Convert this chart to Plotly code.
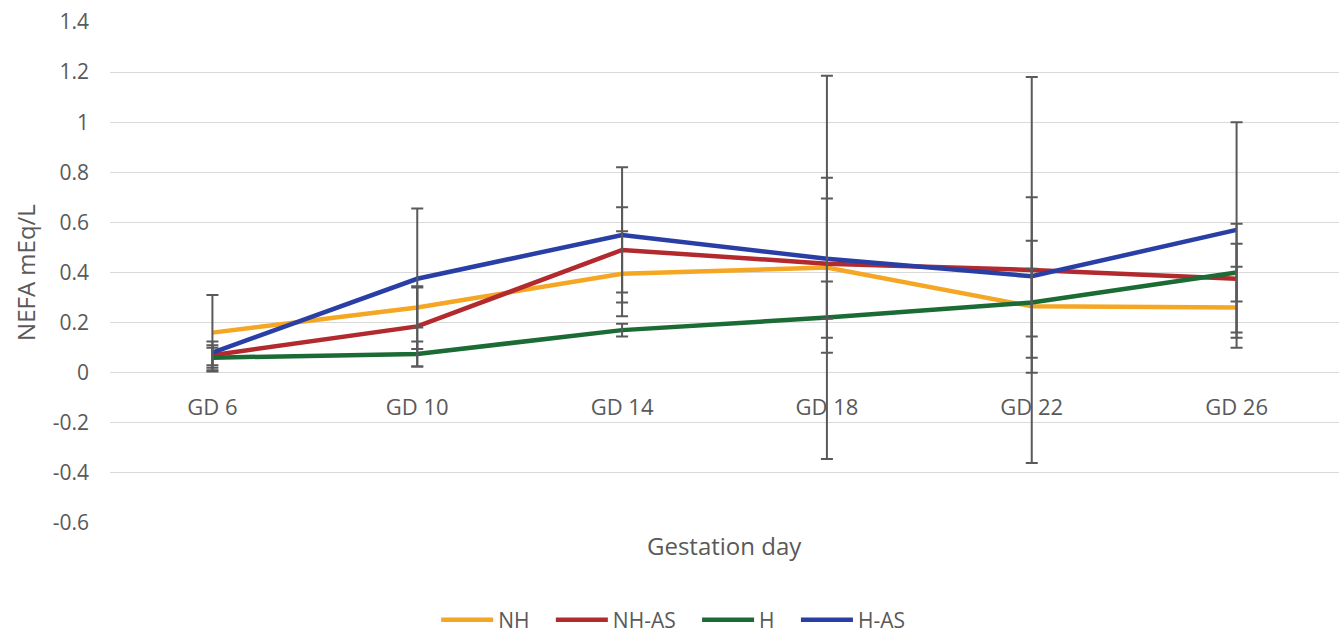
import plotly.graph_objects as go

categories = ["GD 6", "GD 10", "GD 14", "GD 18", "GD 22", "GD 26"]

y_tick_vals = [-0.6, -0.4, -0.2, 0, 0.2, 0.4, 0.6, 0.8, 1, 1.2, 1.4]
y_tick_text = ["-0.6", "-0.4", "-0.2", "0", "0.2", "0.4", "0.6", "0.8", "1", "1.2", "1.4"]

nh = [0.16, 0.26, 0.395, 0.42, 0.265, 0.26]
nh_err_plus = [0.15, 0.08, 0.17, 0.765, 0.262, 0.163]
nh_err_minus = [0.15, 0.08, 0.17, 0.765, 0.265, 0.16]

nh_as = [0.07, 0.185, 0.49, 0.435, 0.41, 0.375]
nh_as_err_plus = [0.04, 0.16, 0.17, 0.343, 0.77, 0.22]
nh_as_err_minus = [0.04, 0.16, 0.17, 0.295, 0.77, 0.215]

h = [0.06, 0.075, 0.17, 0.22, 0.28, 0.40]
h_err_plus = [0.04, 0.05, 0.025, 0.144, 0.135, 0.115]
h_err_minus = [0.04, 0.05, 0.025, 0.14, 0.135, 0.116]

h_as = [0.08, 0.375, 0.55, 0.455, 0.385, 0.57]
h_as_err_plus = [0.045, 0.28, 0.27, 0.24, 0.315, 0.43]
h_as_err_minus = [0.075, 0.28, 0.27, 0.24, 0.325, 0.43]

series = [
    ("NH", nh, nh_err_plus, nh_err_minus, "#F5A623"),
    ("NH-AS", nh_as, nh_as_err_plus, nh_as_err_minus, "#B2292E"),
    ("H", h, h_err_plus, h_err_minus, "#1B6B35"),
    ("H-AS", h_as, h_as_err_plus, h_as_err_minus, "#2A3FA5"),
]

pad = "\u00a0" * 3

fig = go.Figure()
for i, (name, vals, ep, em, col) in enumerate(series):
    label = name + (pad if i < len(series) - 1 else "")
    fig.add_trace(go.Scatter(
        x=categories, y=vals, mode="lines", name=label,
        line=dict(color=col, width=4.5),
        xaxis="x2",
    ))
for name, vals, ep, em, col in series:
    fig.add_trace(go.Scatter(
        x=categories, y=vals, mode="markers", showlegend=False,
        marker=dict(size=1, color="rgba(0,0,0,0)"),
        error_y=dict(type="data", symmetric=False, array=ep, arrayminus=em,
                     color="#5a5a5a", thickness=2, width=6),
        xaxis="x2", hoverinfo="skip",
    ))

tick_font = dict(family="Open Sans", size=21, color="#595959")

fig.update_layout(
    width=1341, height=634,
    margin=dict(l=110, r=2, t=22, b=111, autoexpand=False),
    paper_bgcolor="white", plot_bgcolor="white",
    font=dict(family="Open Sans", color="#595959"),
    xaxis2=dict(
        type="category", categoryorder="array", categoryarray=categories,
        anchor="free", position=0.3,
        range=[-0.5, 5.5],
        showgrid=False, showline=False, zeroline=False,
        ticks="", tickfont=dict(family="Open Sans", size=22, color="#595959"),
        ticklabelstandoff=19,
        domain=[0, 1],
    ),
    yaxis=dict(
        range=[-0.6, 1.4],
        tickvals=y_tick_vals, ticktext=y_tick_text,
        showgrid=True, gridcolor="#d9d9d9", gridwidth=1.3,
        zeroline=False, showline=False,
        ticks="", tickfont=tick_font, ticklabelstandoff=20,
        title=dict(text="NEFA mEq/L", font=dict(family="Open Sans", size=24, color="#595959"), standoff=10),
    ),
    xaxis=dict(visible=False),
    legend=dict(
        orientation="h", xref="container", x=0.502, xanchor="center",
        yref="container", y=0.022, yanchor="middle",
        font=dict(family="Open Sans", size=21, color="#595959"),
        itemwidth=52,
    ),
    annotations=[dict(
        text="Gestation day", xref="paper", yref="paper", x=0.5, y=-0.044,
        xanchor="center", yanchor="middle", showarrow=False,
        font=dict(family="Open Sans", size=24, color="#595959"),
    )],
)

fig.write_html("out.html")
